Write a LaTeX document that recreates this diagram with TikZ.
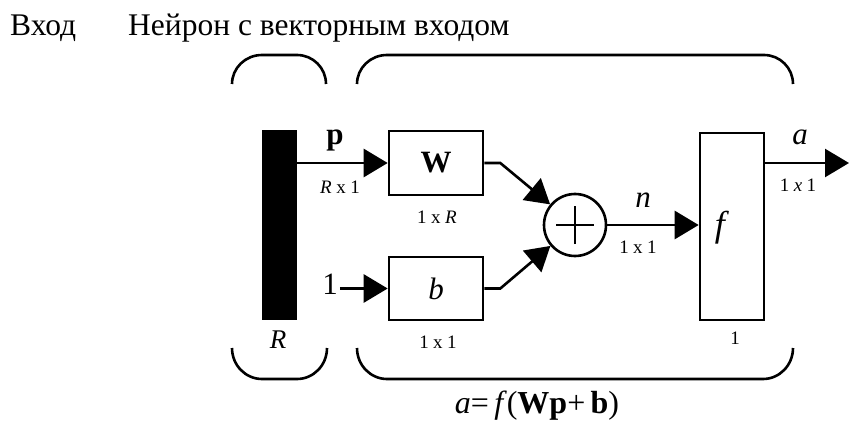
\documentclass[tikz,border=0pt]{standalone}
\usepackage{fontspec}
\setmainfont{Liberation Serif}
\usetikzlibrary{arrows.meta}
\newcommand{\dsp}{\hspace{4.5pt}}
\begin{document}
\begin{tikzpicture}[x=1pt,y=1pt,
  blk/.style={draw,line width=2.6pt,inner sep=0pt},
  arr/.style={line width=2.6pt,-{Triangle[length=24pt,width=28pt]}},
  brk/.style={line width=2.6pt},
  dim/.style={font=\fontsize{19}{19}\selectfont,inner sep=0pt},
  big/.style={font=\fontsize{31}{31}\selectfont,inner sep=0pt},
  title/.style={font=\fontsize{31.5}{31.5}\selectfont,inner sep=0pt,anchor=base west}]
\useasboundingbox (0,0) rectangle (849,424);
% titles
\node[title] (tin) at (10,388) {Вход};
\node[title] (tneu) at (128,388) {Нейрон с векторным входом};
% blocks
\node[fill=black,inner sep=0pt,minimum width=35pt,minimum height=190pt] (bar) at (279.5,199) {};
\node[blk,minimum width=94pt,minimum height=64pt] (W) at (436,261) {};
\node[blk,minimum width=94pt,minimum height=63pt] (b) at (436,135.5) {};
\node[blk,circle,minimum size=62pt] (sum) at (575,199) {};
\node[blk,minimum width=64pt,minimum height=187pt] (f) at (732,197.5) {};
\coordinate (out) at (849,261);
% block texts
\node[big] (Wt) at (W.center) {\textbf{W}};
\node[big] (bt) at (b.center) {\textit{b}};
\node[font=\fontsize{36}{36}\selectfont,inner sep=0pt] (ft) at (722,196) {\textit{f}};
\draw[line width=2.6pt] ([xshift=-19pt]sum.center) -- ([xshift=19pt]sum.center)
  ([yshift=-19pt]sum.center) -- ([yshift=19pt]sum.center);
% labels
\node[big] (one) at (330,140) {1};
\node[big] (pl) at (335,284) {\textbf{p}};
\node[dim] (rx1) at (340,237) {\textit{R}\dsp x\dsp 1};
\node[dim] (1xr) at (437,207) {1\dsp x\dsp\textit{R}};
\node[dim] (bx) at (438,82) {1\dsp x\dsp 1};
\node[big] (nl) at (643,224) {\textit{n}};
\node[dim] (nx) at (638,177) {1\dsp x\dsp 1};
\node[big] (al) at (800,287) {\textit{a}};
\node[dim] (ax) at (798,239) {1\dsp\textit{x}\dsp 1};
\node[dim] (fx) at (735,86) {1};
\node[font=\fontsize{27}{27}\selectfont,inner sep=0pt] (Rl) at (278,84) {\textit{R}};
% connectors
\draw[arr] (bar.east |- W.west) -- (W.west);
\draw[arr] ([xshift=2pt]one.east |- b.west) -- (b.west);
\draw[arr] (W.east) -- ++(16,0) -- (sum);
\draw[arr] (b.east) -- ++(16,0) -- (sum);
\draw[arr] (sum.east) -- (sum.east -| f.west);
\draw[arr] (f.east |- out) -- (out);
% brackets
\draw[brk] (232,340) arc[start angle=180,end angle=90,x radius=30,y radius=29] -- (297,369)
  arc[start angle=90,end angle=0,x radius=29,y radius=29];
\draw[brk] (357,340) arc[start angle=180,end angle=90,x radius=30,y radius=29] -- (764,369)
  arc[start angle=90,end angle=0,x radius=29,y radius=29];
\draw[brk] (232,76) arc[start angle=180,end angle=270,x radius=30,y radius=31] -- (297,45)
  arc[start angle=270,end angle=360,x radius=30,y radius=31];
\draw[brk] (357,76) arc[start angle=180,end angle=270,x radius=30,y radius=31] -- (763,45)
  arc[start angle=270,end angle=360,x radius=30,y radius=31];
% formula
\node[font=\fontsize{32}{32}\selectfont,inner sep=0pt,anchor=base] (form) at (537,11)
  {\textit{a}=\,\textit{f}(\textbf{Wp}+\,\textbf{b})};
\end{tikzpicture}
\end{document}
